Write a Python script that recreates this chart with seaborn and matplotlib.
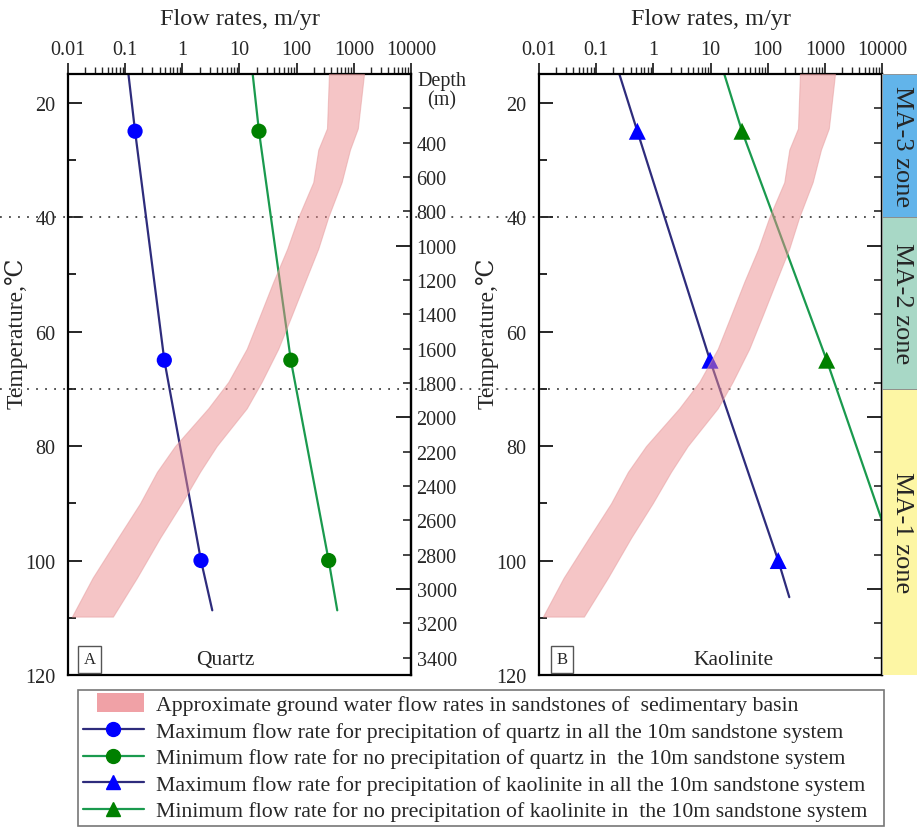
import matplotlib
matplotlib.use("Agg")
import matplotlib.pyplot as plt
import seaborn as sns
from matplotlib.lines import Line2D
from matplotlib.patches import Patch, Rectangle
from matplotlib.ticker import LogLocator, NullFormatter, FixedLocator
from matplotlib.legend_handler import HandlerPatch

sns.set_style("white")
plt.rcParams["font.family"] = ["Liberation Serif", "DejaVu Serif"]

# ---------------- data ----------------
flow_ticks = [0.01, 0.1, 1, 10, 100, 1000, 10000]
flow_tick_labels = ["0.01", "0.1", "1", "10", "100", "1000", "10000"]
temp_ticks = [20, 40, 60, 80, 100, 120]
temp_minor = [30, 50, 70, 90, 110]
depth_major = [1000, 2000, 3000]
depth_minor = [200, 400, 600, 800, 1200, 1400, 1600, 1800, 2200, 2400, 2600, 2800, 3200, 3400]
depth_minor_labels = ["", "400", "600", "800", "1200", "1400", "1600", "1800",
                      "2200", "2400", "2600", "2800", "3200", "3400"]

# approximate ground water flow band (same in both panels)
band_temp = [15, 24.5, 28.2, 33.9, 40, 45.5, 51.3, 57.2, 63, 68.8, 73.4, 80, 84.5, 90, 96, 103, 109.8]
band_low = [367, 339, 239, 195, 107, 68.5, 39.0, 22.8, 13.4, 6.37, 2.84, 0.745, 0.36, 0.182,
            0.075, 0.027, 0.0117]
band_high = [1507, 1175, 857, 612, 357, 239, 140, 81.8, 47.7, 24.4, 13.4, 3.99, 2.04, 0.975,
             0.41, 0.161, 0.061]

marker_temp = [25, 65, 100]
# Panel A: quartz
qz_line_temp = [15, 25, 65, 100, 108.7]
qz_max_line = [0.114, 0.149, 0.484, 2.12, 3.34]
qz_min_line = [17.0, 21.9, 79.0, 363.0, 513.0]
qz_max_pts = [0.149, 0.484, 2.12]
qz_min_pts = [21.9, 79.0, 363.0]
# Panel B: kaolinite
ka_max_temp = [15, 25, 65, 100, 106.4]
ka_max_line = [0.254, 0.525, 9.8, 153.0, 239.0]
ka_min_temp = [15, 25, 65, 100]
ka_min_line = [17.4, 35.6, 1077.0, 17400.0]
ka_max_pts = [0.525, 9.8, 153.0]
ka_min_pts = [35.6, 1077.0, 17400.0]

zone_names = ["MA-3 zone", "MA-2 zone", "MA-1 zone"]
zone_bounds = [(15, 40), (40, 70), (70, 120)]
zone_colors = ["#62B4EA", "#A8D8C6", "#FDF6A4"]
zone_lines = [40, 70]

legend_labels = [
    "Approximate ground water flow rates in sandstones of  sedimentary basin",
    "Maximum flow rate for precipitation of quartz in all the 10m sandstone system",
    "Minimum flow rate for no precipitation of quartz in  the 10m sandstone system",
    "Maximum flow rate for precipitation of kaolinite in all the 10m sandstone system",
    "Minimum flow rate for no precipitation of kaolinite in  the 10m sandstone system",
]

NAVY = "#2E2C7C"
BLUE = "#0000FF"
GLINE = "#1A9A4E"
GMARK = "#008000"
BAND = "#EC8C8F"
BAND_EDGE = "#E59A9C"

W, H = 917, 829
fig = plt.figure(figsize=(W / 100, H / 100), dpi=100)
axA = fig.add_axes([68 / W, 1 - 676 / H, 343 / W, 601 / H])
axB = fig.add_axes([539 / W, 1 - 676 / H, 343 / W, 601 / H])
axZ = fig.add_axes([882 / W, 1 - 676 / H, 36 / W, 601 / H])

t2d = lambda t: (t - 15) / 0.03
d2t = lambda d: 15 + 0.03 * d

FS_TICK = 14.5


def setup(ax, depth_labels):
    ax.set_xscale("log")
    ax.set_xlim(0.01, 10000)
    ax.set_ylim(120, 15)
    ax.xaxis.tick_top()
    ax.xaxis.set_label_position("top")
    ax.set_xticks(flow_ticks, flow_tick_labels)
    ax.xaxis.set_minor_locator(LogLocator(base=10, subs=range(2, 10), numticks=20))
    ax.xaxis.set_minor_formatter(NullFormatter())
    ax.tick_params(axis="x", which="major", direction="out", length=8, width=1.3,
                   top=True, bottom=False, labeltop=True, labelbottom=False,
                   pad=3, labelsize=FS_TICK)
    ax.tick_params(axis="x", which="minor", direction="out", length=5, width=1.0,
                   top=True, bottom=False)
    ax.set_yticks(temp_ticks, [str(t) for t in temp_ticks])
    ax.yaxis.set_minor_locator(FixedLocator(temp_minor))
    ax.tick_params(axis="y", which="major", direction="in", length=10, width=1.4,
                   left=True, right=False, pad=9, labelsize=FS_TICK)
    ax.tick_params(axis="y", which="minor", direction="in", length=6, width=1.4,
                   left=True, right=False)
    for s in ax.spines.values():
        s.set_linewidth(1.6)
        s.set_color("black")
    ax.set_xlabel("Flow rates, m/yr", fontsize=17.5)
    ax.xaxis.set_label_coords(0.5, 1.083)
    ax.set_ylabel("Temperature,\u2103", fontsize=17)
    ax.yaxis.set_label_coords(-0.118, 0.571)
    sec = ax.secondary_yaxis("right", functions=(t2d, d2t))
    sec.set_ticks(depth_major, [str(d) for d in depth_major] if depth_labels else ["", "", ""])
    sec.set_ticks(depth_minor, depth_minor_labels if depth_labels else [""] * len(depth_minor), minor=True)
    sec.tick_params(axis="y", which="major", direction="in", length=11, width=1.4,
                    pad=4, labelsize=FS_TICK)
    sec.tick_params(axis="y", which="minor", direction="in", length=6, width=1.2,
                    pad=4, labelsize=FS_TICK)
    sec.spines["right"].set_linewidth(1.6)
    return sec


def draw_band(ax):
    ax.fill_betweenx(band_temp, band_low, band_high, facecolor=BAND, alpha=0.5,
                     edgecolor=BAND_EDGE, linewidth=0.8, zorder=4)


for ax in (axA, axB):
    ax.set_xscale("log")

# Panel A
sns.lineplot(x=qz_max_line, y=qz_line_temp, ax=axA, color=NAVY, lw=1.6,
             sort=False, estimator=None, zorder=2)
sns.lineplot(x=qz_min_line, y=qz_line_temp, ax=axA, color=GLINE, lw=1.6,
             sort=False, estimator=None, zorder=2)
sns.scatterplot(x=qz_max_pts, y=marker_temp, ax=axA, color=BLUE, marker="o", s=120,
                edgecolor="none", zorder=3, legend=False)
sns.scatterplot(x=qz_min_pts, y=marker_temp, ax=axA, color=GMARK, marker="o", s=120,
                edgecolor="none", zorder=3, legend=False)
draw_band(axA)

# Panel B
sns.lineplot(x=ka_max_line, y=ka_max_temp, ax=axB, color=NAVY, lw=1.6,
             sort=False, estimator=None, zorder=2)
sns.lineplot(x=ka_min_line, y=ka_min_temp, ax=axB, color=GLINE, lw=1.6,
             sort=False, estimator=None, zorder=2)
sns.scatterplot(x=ka_max_pts, y=marker_temp, ax=axB, color=BLUE, marker="^", s=150,
                edgecolor="none", zorder=3, legend=False)
sns.scatterplot(x=ka_min_pts, y=marker_temp, ax=axB, color=GMARK, marker="^", s=150,
                edgecolor="none", zorder=3, legend=False)
draw_band(axB)

secA = setup(axA, True)
secB = setup(axB, False)

# dotted zone boundaries across the figure
axw = 343.0
for t in zone_lines:
    axA.axhline(t, xmin=-68 / axw, xmax=(539 - 68) / axw, clip_on=False,
                color="#444444", lw=1.3, ls=(0, (1, 4)), zorder=1)
    axB.axhline(t, xmin=0, xmax=1, color="#444444", lw=1.3, ls=(0, (1, 4)), zorder=1)

axA.text(1.09, 0.973, "Depth\n(m)", transform=axA.transAxes, ha="center", va="center",
         fontsize=FS_TICK, linespacing=1.05)

box = dict(boxstyle="square,pad=0.35", facecolor="white", edgecolor="#555555", lw=1.0)
axA.text(0.063, 0.026, "A", transform=axA.transAxes, ha="center", va="center",
         fontsize=12, bbox=box)
axA.text(0.458, 0.026, "Quartz", transform=axA.transAxes, ha="center", va="center",
         fontsize=15.5)
axB.text(0.067, 0.026, "B", transform=axB.transAxes, ha="center", va="center",
         fontsize=12, bbox=box)
axB.text(0.566, 0.026, "Kaolinite", transform=axB.transAxes, ha="center", va="center",
         fontsize=15.5)

# zone column
axZ.set_xlim(0, 1)
axZ.set_ylim(120, 15)
for name, (t0, t1), c in zip(zone_names, zone_bounds, zone_colors):
    axZ.axhspan(t0, t1, facecolor=c, edgecolor="#888888", lw=0.6)
    axZ.text(0.55, (t0 + t1) / 2, name, rotation=270, ha="center", va="center",
             fontsize=19)
axZ.set_xticks([])
axZ.set_yticks([])
for s in axZ.spines.values():
    s.set_visible(False)

# legend
def make_band_patch(legend, orig_handle, xdescent, ydescent, width, height, fontsize):
    return Rectangle((-xdescent + 0.23 * width, -ydescent - 0.12 * height),
                     0.77 * width, 1.24 * height)

handles = [
    Patch(facecolor="#F0A1A6", edgecolor="none"),
    Line2D([0], [0], color=NAVY, lw=1.6, marker="o", markersize=10,
           markerfacecolor=BLUE, markeredgecolor=BLUE),
    Line2D([0], [0], color=GLINE, lw=1.6, marker="o", markersize=10,
           markerfacecolor=GMARK, markeredgecolor=GMARK),
    Line2D([0], [0], color=NAVY, lw=1.6, marker="^", markersize=10,
           markerfacecolor=BLUE, markeredgecolor=BLUE),
    Line2D([0], [0], color=GLINE, lw=1.6, marker="^", markersize=10,
           markerfacecolor=GMARK, markeredgecolor=GMARK),
]
leg = fig.legend(handles, legend_labels, loc="upper left",
                 bbox_to_anchor=(78 / W, 2 / H, 806 / W, (829 - 691 - 2) / H), mode="expand",
                 borderaxespad=0, fontsize=15.7, labelspacing=0.29, handlelength=2.8,
                 handletextpad=0.55, borderpad=0.22, fancybox=False, frameon=True,
                 handler_map={Patch: HandlerPatch(patch_func=make_band_patch)})
leg.get_frame().set_edgecolor("#555555")
leg.get_frame().set_linewidth(1.2)

fig.savefig("out.png", dpi=100)
